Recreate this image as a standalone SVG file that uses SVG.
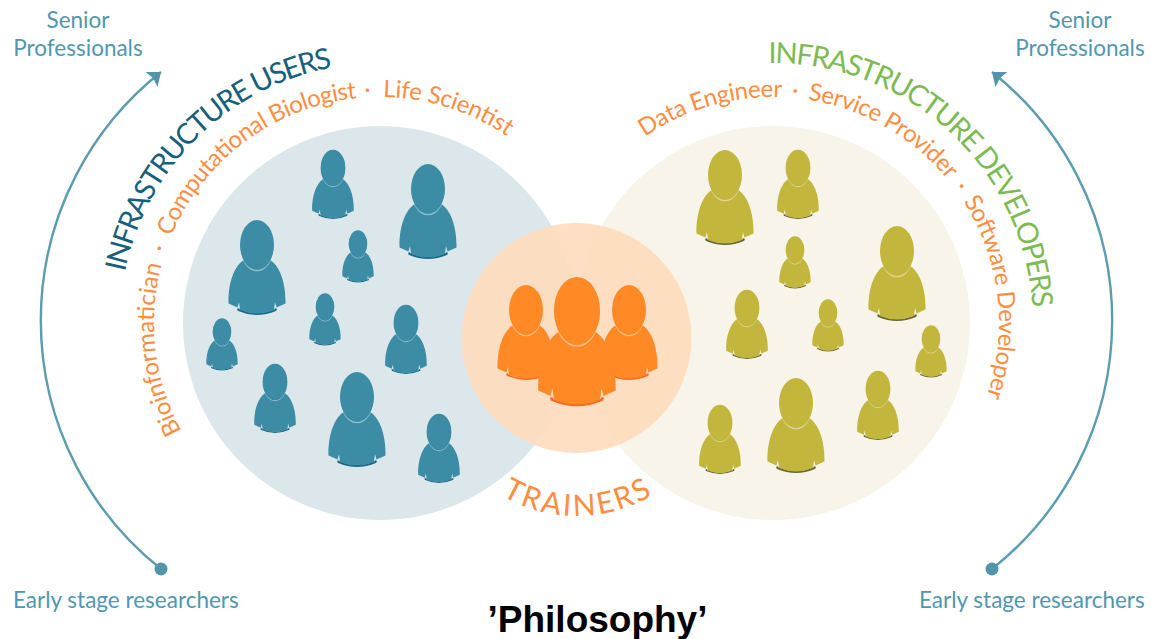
<svg xmlns="http://www.w3.org/2000/svg" xmlns:xlink="http://www.w3.org/1999/xlink" width="1151" height="639" viewBox="0 0 1151 639">
<style>
text{font-family:Lato,"Open Sans",sans-serif}
.role{font-size:24px;fill:#ff8d3f}
.side{font-size:22.5px;fill:#4f97b0}
.u{color:#3c8ca6;stroke:#1c6a86}
.d{color:#c3b63c;stroke:#66663a}
.t{color:#ff8a25;stroke:#ff6a1e}
.arc{fill:none;stroke:#5c9cb0;stroke-width:2.4}
</style>
<defs>
<marker id="ah" markerUnits="userSpaceOnUse" markerWidth="24" markerHeight="24" refX="12" refY="9.5" orient="auto"><path d="M0,0L12,9.5L0,19L2,9.5Z" fill="#5295aa"/></marker>
<g id="p">
<path d="M-19,63.5L-18.5,65Q0,73 18.5,65L19,63.5" fill="none" stroke-width="2"/>
<path d="M-28.5,58.5C-29,37-22,17-9,13L9,13C22,17,29,37,28.5,58.5L19.5,62.5L18,57L17,65Q0,72-17,65L-18,57L-19.5,62.5Z" fill="currentColor" stroke="none"/>
<ellipse cx="0" cy="1.3" rx="17" ry="25" fill="#fff" fill-opacity=".45" stroke="none"/>
<ellipse cx="0" cy="0" rx="17" ry="25" fill="currentColor" stroke="none"/>
</g>
<path id="a1" d="M121,300.3A260,260 0 0 1 357.3,64"/>
<path id="a2" d="M184.3,436A226,226 0 0 1 525.3,149.9"/>
<path id="a3" d="M727.9,67A260,260 0 0 1 1029,368.1"/>
<path id="a4" d="M627.7,149.9A226,226 0 0 1 977.8,418.5"/>
<path id="a5" d="M490,488A150,150 0 0 0 664,488"/>
</defs>

<g id="users-circle"><circle cx="380" cy="323" r="197" fill="#dce7ec"/></g>
<g id="developers-circle"><circle cx="773" cy="323" r="197" fill="#f8f4e9"/></g>
<g id="trainers-circle"><circle cx="576.5" cy="338" r="115" fill="#fedbbd" opacity=".9"/></g>

<g id="users-people">
<use href="#p" class="u" transform="translate(257,245)"/>
<use href="#p" class="u" transform="translate(428,189)"/>
<use href="#p" class="u" transform="translate(333,168) scale(.73)"/>
<use href="#p" class="u" transform="translate(358,244) scale(.55)"/>
<use href="#p" class="u" transform="translate(325,307) scale(.55)"/>
<use href="#p" class="u" transform="translate(406,323) scale(.73)"/>
<use href="#p" class="u" transform="translate(222,332) scale(.55)"/>
<use href="#p" class="u" transform="translate(275,382) scale(.73)"/>
<use href="#p" class="u" transform="translate(357,397)"/>
<use href="#p" class="u" transform="translate(439,432) scale(.73)"/>
</g>
<g id="developers-people">
<use href="#p" class="d" transform="translate(725,175)"/>
<use href="#p" class="d" transform="translate(798,168) scale(.73)"/>
<use href="#p" class="d" transform="translate(795,250) scale(.55)"/>
<use href="#p" class="d" transform="translate(897,251)"/>
<use href="#p" class="d" transform="translate(747,308) scale(.73)"/>
<use href="#p" class="d" transform="translate(828,313) scale(.55)"/>
<use href="#p" class="d" transform="translate(931,339) scale(.55)"/>
<use href="#p" class="d" transform="translate(878,389) scale(.73)"/>
<use href="#p" class="d" transform="translate(796,403)"/>
<use href="#p" class="d" transform="translate(720,423) scale(.73)"/>
</g>
<g id="trainers-people">
<use href="#p" class="t" transform="translate(526,310)"/>
<use href="#p" class="t" transform="translate(629,310)"/>
<use href="#p" class="t" transform="translate(577,311) scale(1.36)"/>
</g>

<g id="connectors">
<path class="arc" d="M161,569A317,317 0 0 1 161,72" marker-end="url(#ah)"/>
<circle cx="161" cy="569" r="6.5" fill="#5295aa"/>
<path class="arc" d="M992,569A317,317 0 0 0 992,72" marker-end="url(#ah)"/>
<circle cx="992" cy="569" r="6.5" fill="#5295aa"/>
</g>

<g id="users-label">
<text font-size="29" fill="#16607c"><textPath href="#a1" startOffset="28.6" textLength="309" lengthAdjust="spacing">INFRASTRUCTURE USERS</textPath></text>
<text class="role"><textPath href="#a2" startOffset="5.5" textLength="172">Bioinformatician</textPath></text>
<text class="role" text-anchor="middle"><textPath href="#a2" startOffset="192">·</textPath></text>
<text class="role"><textPath href="#a2" startOffset="207" textLength="243">Computational Biologist</textPath></text>
<text class="role" text-anchor="middle"><textPath href="#a2" startOffset="461">·</textPath></text>
<text class="role"><textPath href="#a2" startOffset="476" textLength="132">Life Scientist</textPath></text>
</g>
<g id="developers-label">
<text font-size="29" fill="#7dbb52"><textPath href="#a3" startOffset="41" textLength="397" lengthAdjust="spacing">INFRASTRUCTURE DEVELOPERS</textPath></text>
<text class="role"><textPath href="#a4" startOffset="21.7" textLength="145">Data Engineer</textPath></text>
<text class="role" text-anchor="middle"><textPath href="#a4" startOffset="179.5">·</textPath></text>
<text class="role"><textPath href="#a4" startOffset="192.5" textLength="165">Service Provider</textPath></text>
<text class="role" text-anchor="middle"><textPath href="#a4" startOffset="370.8">·</textPath></text>
<text class="role"><textPath href="#a4" startOffset="384" textLength="203.5">Software Developer</textPath></text>
</g>
<g id="trainers-label">
<text font-size="30" fill="#ff8d3f" text-anchor="middle"><textPath href="#a5" startOffset="50%" textLength="158">TRAINERS</textPath></text>
</g>

<g id="side-labels">
<text class="side" x="78" y="28" text-anchor="middle">Senior</text>
<text class="side" x="78" y="56" text-anchor="middle">Professionals</text>
<text class="side" x="13" y="608">Early stage researchers</text>
<text class="side" x="1080" y="28" text-anchor="middle">Senior</text>
<text class="side" x="1080" y="56" text-anchor="middle">Professionals</text>
<text class="side" x="919" y="608">Early stage researchers</text>
</g>
<text id="title" x="597.5" y="632" text-anchor="middle" font-size="37" font-weight="bold" style="font-family:'Liberation Sans',Arial,sans-serif" fill="#000">’Philosophy’</text>
</svg>
